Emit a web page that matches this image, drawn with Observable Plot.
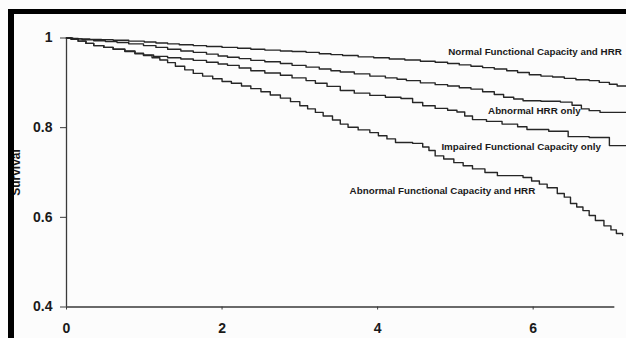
<!DOCTYPE html>
<html><head><meta charset="utf-8">
<script src="https://cdn.jsdelivr.net/npm/d3@7"></script>
<script src="https://cdn.jsdelivr.net/npm/@observablehq/plot@0.6"></script>
<style>
html,body{margin:0;padding:0;background:#fff;}
#wrap{position:relative;width:626px;height:338px;overflow:hidden;background:#fff;}
#chart{position:absolute;left:0;top:0;}
.bar{position:absolute;background:#000;}
</style></head><body>
<div id="wrap"><div id="chart"></div>
<div class="bar" style="left:8px;top:9px;width:618px;height:5px"></div>
<div class="bar" style="left:8px;top:9px;width:6px;height:329px"></div>
</div>
<script>
// Kaplan-Meier survival curves (years, survival)
const groups = [
  "Normal Functional Capacity and HRR",
  "Abnormal HRR only",
  "Impaired Functional Capacity only",
  "Abnormal Functional Capacity and HRR"
];
const normalT = [0, 0.05, 0.15, 0.3, 0.45, 0.6, 0.8, 1.0, 1.15, 1.3, 1.45, 1.63, 1.8, 2.0, 2.2, 2.37, 2.55, 2.75, 2.9, 3.08, 3.25, 3.4, 3.55, 3.75, 3.95, 4.15, 4.35, 4.55, 4.74, 4.9, 5.05, 5.2, 5.35, 5.5, 5.66, 5.8, 5.95, 6.1, 6.25, 6.4, 6.55, 6.72, 6.85, 6.98, 7.08, 7.2];
const normalS = [1, 0.999, 0.998, 0.997, 0.996, 0.995, 0.993, 0.991, 0.989, 0.987, 0.985, 0.983, 0.981, 0.979, 0.977, 0.975, 0.973, 0.971, 0.97, 0.968, 0.965, 0.963, 0.961, 0.958, 0.956, 0.953, 0.951, 0.948, 0.946, 0.943, 0.94, 0.937, 0.934, 0.931, 0.927, 0.923, 0.918, 0.915, 0.913, 0.91, 0.907, 0.905, 0.901, 0.897, 0.893, 0.892];
const hrrT = [0, 0.08, 0.2, 0.35, 0.5, 0.65, 0.8, 0.99, 1.15, 1.3, 1.47, 1.63, 1.8, 1.95, 2.07, 2.22, 2.37, 2.55, 2.75, 2.9, 3.08, 3.25, 3.4, 3.52, 3.7, 3.9, 4.1, 4.25, 4.37, 4.55, 4.74, 4.9, 5.05, 5.2, 5.35, 5.5, 5.62, 5.75, 5.87, 6.1, 6.35, 6.5, 6.62, 6.72, 6.86, 7.2];
const hrrS = [1, 0.998, 0.996, 0.994, 0.992, 0.99, 0.987, 0.983, 0.979, 0.975, 0.971, 0.968, 0.964, 0.96, 0.957, 0.954, 0.95, 0.947, 0.943, 0.939, 0.935, 0.931, 0.927, 0.924, 0.92, 0.915, 0.911, 0.908, 0.905, 0.9, 0.896, 0.893, 0.889, 0.886, 0.88, 0.874, 0.868, 0.864, 0.86, 0.859, 0.857, 0.85, 0.842, 0.838, 0.834, 0.834];
const fcT = [0, 0.06, 0.15, 0.25, 0.35, 0.48, 0.6, 0.75, 0.88, 0.99, 1.12, 1.3, 1.47, 1.63, 1.8, 1.95, 2.07, 2.22, 2.37, 2.55, 2.75, 2.9, 3.08, 3.2, 3.35, 3.52, 3.7, 3.9, 4.1, 4.3, 4.45, 4.58, 4.74, 4.9, 5.02, 5.12, 5.22, 5.4, 5.6, 5.8, 5.92, 6.2, 6.45, 6.72, 6.98, 7.2];
const fcS = [1, 0.997, 0.993, 0.988, 0.983, 0.979, 0.975, 0.971, 0.966, 0.962, 0.959, 0.956, 0.953, 0.95, 0.946, 0.942, 0.939, 0.933, 0.927, 0.922, 0.917, 0.911, 0.905, 0.899, 0.892, 0.883, 0.877, 0.872, 0.868, 0.865, 0.856, 0.849, 0.843, 0.839, 0.835, 0.826, 0.818, 0.814, 0.808, 0.802, 0.796, 0.792, 0.78, 0.778, 0.76, 0.76];
const bothT = [0, 0.06, 0.15, 0.25, 0.35, 0.48, 0.6, 0.75, 0.88, 0.99, 1.1, 1.2, 1.3, 1.4, 1.52, 1.63, 1.75, 1.88, 2.0, 2.12, 2.25, 2.37, 2.5, 2.62, 2.75, 2.88, 3.0, 3.1, 3.2, 3.3, 3.42, 3.52, 3.62, 3.75, 3.9, 4.01, 4.12, 4.23, 4.45, 4.58, 4.66, 4.74, 4.85, 4.98, 5.1, 5.22, 5.38, 5.54, 5.87, 5.98, 6.08, 6.18, 6.31, 6.4, 6.48, 6.56, 6.64, 6.72, 6.8, 6.91, 7.0, 7.07, 7.15];
const bothS = [1, 0.997, 0.993, 0.988, 0.983, 0.979, 0.975, 0.97, 0.965, 0.961, 0.956, 0.951, 0.945, 0.937, 0.929, 0.921, 0.915, 0.909, 0.903, 0.899, 0.893, 0.887, 0.88, 0.873, 0.866, 0.858, 0.849, 0.842, 0.834, 0.826, 0.817, 0.808, 0.801, 0.795, 0.789, 0.782, 0.775, 0.767, 0.765, 0.757, 0.749, 0.737, 0.73, 0.722, 0.715, 0.708, 0.7, 0.693, 0.689, 0.681, 0.674, 0.666, 0.653, 0.645, 0.631, 0.623, 0.615, 0.604, 0.593, 0.581, 0.572, 0.564, 0.56];

const xTicks = [0, 2, 4, 6];
const yTicks = [0.4, 0.6, 0.8, 1];
const yLabel = "Survival";
// label anchor positions (years, survival)
const labelX = [4.907, 5.42, 4.82, 3.64];
const labelY = [0.968, 0.837, 0.757, 0.66];

const series = [[normalT, normalS], [hrrT, hrrS], [fcT, fcS], [bothT, bothS]];
const rows = series.flatMap(([T, S], i) => T.map((t, j) => ({group: groups[i], t, s: S[j]})));
const labels = groups.map((g, i) => ({text: g, x: labelX[i], y: labelY[i]}));

const font = "'Liberation Sans', Arial, Helvetica, sans-serif";
const chart = Plot.plot({
  width: 626,
  height: 338,
  marginLeft: 66,
  marginRight: 0,
  marginTop: 37.5,
  marginBottom: 31.5,
  style: {fontFamily: font, background: "#fcfcfc", color: "#1a1a1a"},
  x: {domain: [0, 7.2]},
  y: {domain: [0.4, 1]},
  marks: [
    Plot.ruleX([0], {y1: 0.4, y2: 1, stroke: "#3a3a3a", strokeWidth: 1.3}),
    Plot.ruleY([0.4], {x1: 0, x2: 7.05, stroke: "#3a3a3a", strokeWidth: 1.3}),
    Plot.axisY(yTicks, {tickSize: 6, tickPadding: 8, tickFormat: d => String(d), label: null, fontSize: 14, fontWeight: "bold", stroke: "#3a3a3a"}),
    Plot.axisX(xTicks, {tickSize: 3, tickPadding: 13, tickFormat: d => String(d), label: null, fontSize: 14, fontWeight: "bold", stroke: "#3a3a3a"}),
    Plot.text([yLabel], {frameAnchor: "left", dx: -47, rotate: -90, lineAnchor: "bottom", textAnchor: "middle", fontSize: 12, fontWeight: "bold", fill: "#1a1a1a"}),
    Plot.line(rows, {x: "t", y: "s", z: "group", curve: "step-after", stroke: "#262626", strokeWidth: 1.4}),
    Plot.text(labels, {x: "x", y: "y", text: "text", textAnchor: "start", lineAnchor: "middle", fontSize: 9.8, fontWeight: "bold", fill: "#1a1a1a"})
  ]
});
document.getElementById("chart").appendChild(chart);
</script>
</body></html>
